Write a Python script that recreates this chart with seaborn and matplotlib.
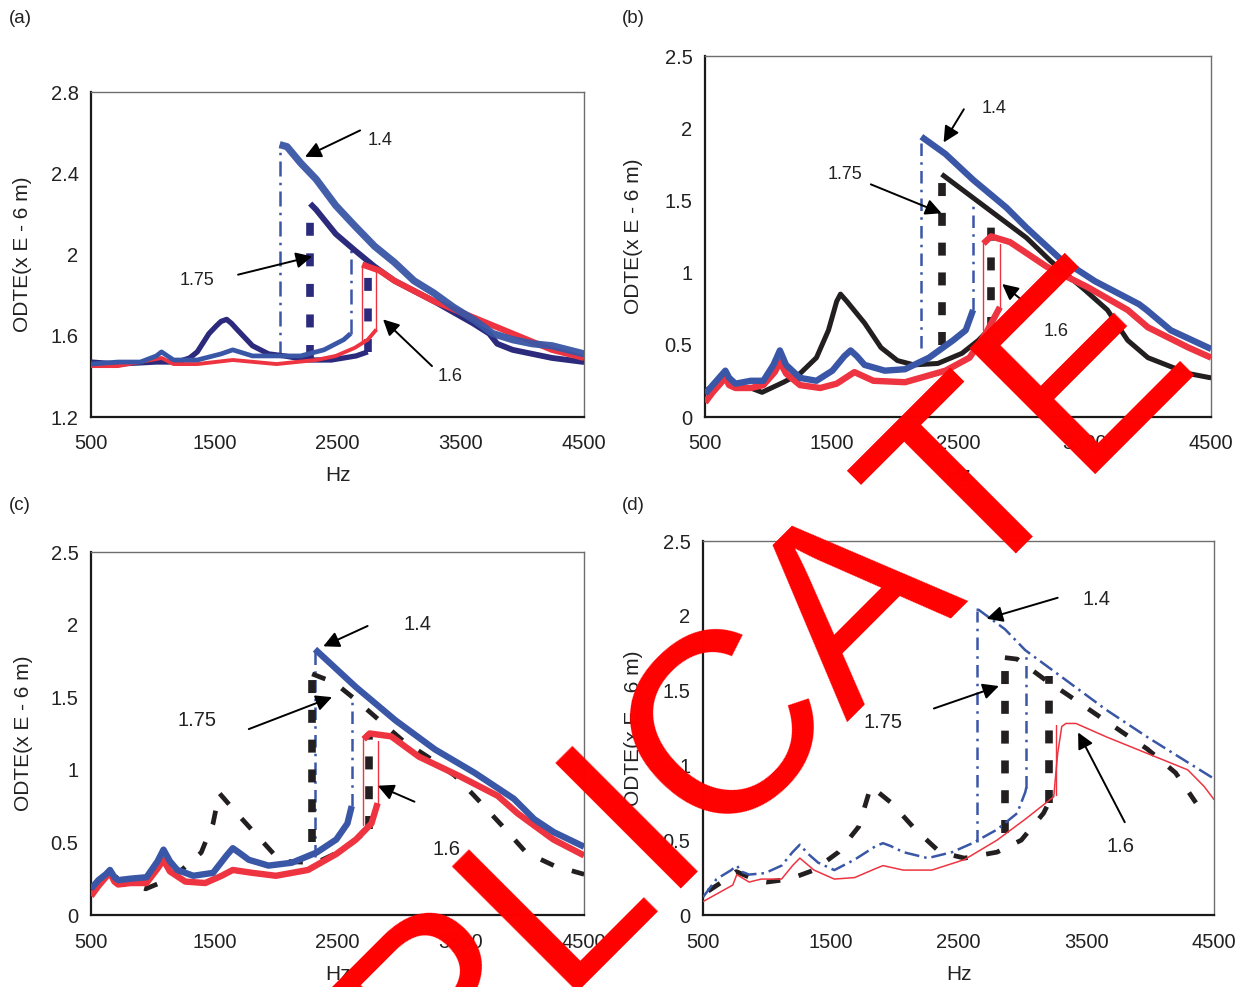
import matplotlib
matplotlib.use("Agg")
import matplotlib.pyplot as plt
import seaborn as sns
import pandas as pd

sns.set_theme(style="white")
plt.rcParams['font.family'] = ['Liberation Sans', 'DejaVu Sans']
plt.rcParams['text.kerning_factor'] = 16  # reference text is set without pair kerning

# ---------------- data ----------------
hz_ticks = [500, 1500, 2500, 3500, 4500]
a_yticks = [1.2, 1.6, 2.0, 2.4, 2.8]
bcd_yticks = [0, 0.5, 1, 1.5, 2, 2.5]
panel_labels = ["(a)", "(b)", "(c)", "(d)"]
ylabel_text = "ODTE(x E - 6 m)"
xlabel_text = "Hz"
watermark_text = "DUPLICATE"

# Panel (a)
a_x_lo_14 = [500, 719, 900, 1030, 1072, 1120, 1170, 1362, 1555, 1650, 1810, 2005, 2200, 2390, 2550, 2606]
a_y_lo_14 = [1.46, 1.47, 1.47, 1.50, 1.52, 1.50, 1.48, 1.48, 1.51, 1.53, 1.50, 1.50, 1.50, 1.53, 1.58, 1.61]
a_x_up_14 = [2030, 2090, 2200, 2326, 2486, 2640, 2800, 2962, 3120, 3280, 3440, 3600, 3760, 3920, 4080, 4240, 4500]
a_y_up_14 = [2.54, 2.53, 2.45, 2.37, 2.24, 2.14, 2.04, 1.96, 1.87, 1.81, 1.74, 1.68, 1.61, 1.58, 1.56, 1.55, 1.51]
a_jumps_14 = [[2030, 1.50, 2.54], [2606, 1.61, 2.03]]

a_x_lo_175 = [500, 719, 1030, 1200, 1300, 1362, 1457, 1520, 1555, 1600, 1640, 1685, 1810, 1940, 2070, 2260, 2450, 2650, 2745]
a_y_lo_175 = [1.47, 1.46, 1.47, 1.47, 1.49, 1.52, 1.61, 1.65, 1.67, 1.68, 1.66, 1.63, 1.55, 1.51, 1.50, 1.48, 1.48, 1.50, 1.52]
a_x_up_175 = [2278, 2326, 2486, 2640, 2800, 2962, 3280, 3600, 3730, 3795, 3920, 4240, 4500]
a_y_up_175 = [2.25, 2.22, 2.10, 2.02, 1.94, 1.87, 1.77, 1.66, 1.61, 1.56, 1.53, 1.49, 1.47]
a_jumps_175 = [[2278, 1.49, 2.24], [2745, 1.52, 1.97]]

a_x_lo_16 = [500, 719, 1072, 1170, 1362, 1650, 2005, 2326, 2486, 2640, 2745, 2815]
a_y_lo_16 = [1.45, 1.45, 1.49, 1.46, 1.46, 1.48, 1.46, 1.48, 1.50, 1.54, 1.58, 1.63]
a_x_up_16 = [2700, 2840, 2962, 3280, 3600, 3920, 4240, 4500]
a_y_up_16 = [1.95, 1.92, 1.87, 1.77, 1.69, 1.61, 1.53, 1.49]
a_jumps_16 = [[2700, 1.57, 1.95], [2815, 1.63, 1.95]]

# Panel (b)
b_x_lo_14 = [500, 570, 630, 660, 690, 740, 860, 960, 1040, 1091, 1140, 1250, 1380, 1506, 1600, 1650, 1700, 1760, 1920, 2080, 2270, 2460, 2560, 2618]
b_y_lo_14 = [0.16, 0.23, 0.29, 0.32, 0.27, 0.23, 0.25, 0.25, 0.36, 0.46, 0.36, 0.27, 0.25, 0.32, 0.42, 0.46, 0.42, 0.36, 0.32, 0.33, 0.41, 0.53, 0.60, 0.74]
b_x_up_14 = [2209, 2400, 2620, 2880, 3040, 3300, 3580, 3930, 3990, 4180, 4500]
b_y_up_14 = [1.94, 1.82, 1.64, 1.45, 1.31, 1.10, 0.94, 0.78, 0.74, 0.60, 0.47]
b_jumps_14 = [[2209, 0.48, 1.93], [2618, 0.74, 1.50]]

b_x_lo_175 = [500, 580, 660, 760, 860, 950, 1120, 1250, 1380, 1475, 1540, 1570, 1620, 1760, 1890, 2020, 2150, 2340, 2530, 2660, 2760]
b_y_lo_175 = [0.18, 0.22, 0.30, 0.21, 0.20, 0.17, 0.24, 0.30, 0.41, 0.60, 0.80, 0.85, 0.80, 0.65, 0.48, 0.39, 0.36, 0.37, 0.44, 0.53, 0.62]
b_x_up_175 = [2370, 2720, 3040, 3230, 3500, 3680, 3840, 4000, 4320, 4500]
b_y_up_175 = [1.68, 1.45, 1.24, 1.08, 0.88, 0.74, 0.53, 0.41, 0.30, 0.27]
b_jumps_175 = [[2370, 0.50, 1.66], [2760, 0.60, 1.42]]

b_x_lo_16 = [500, 560, 630, 660, 690, 740, 860, 960, 1050, 1091, 1140, 1250, 1410, 1540, 1680, 1830, 2080, 2400, 2590, 2720, 2830]
b_y_lo_16 = [0.10, 0.17, 0.24, 0.27, 0.22, 0.20, 0.20, 0.22, 0.31, 0.38, 0.30, 0.22, 0.20, 0.23, 0.31, 0.25, 0.24, 0.32, 0.41, 0.58, 0.76]
b_x_up_16 = [2700, 2760, 2910, 3200, 3520, 3840, 4000, 4320, 4500]
b_y_up_16 = [1.20, 1.25, 1.21, 1.04, 0.90, 0.74, 0.62, 0.48, 0.41]
b_jumps_16 = [[2700, 0.60, 1.22], [2830, 0.76, 1.20]]

# Panel (c)
c_x_lo_14 = [500, 560, 620, 654, 690, 720, 820, 950, 1040, 1088, 1140, 1200, 1330, 1490, 1600, 1650, 1700, 1780, 1940, 2130, 2330, 2490, 2580, 2615]
c_y_lo_14 = [0.18, 0.24, 0.28, 0.31, 0.26, 0.24, 0.25, 0.26, 0.37, 0.45, 0.37, 0.31, 0.27, 0.29, 0.41, 0.46, 0.43, 0.38, 0.34, 0.36, 0.43, 0.52, 0.63, 0.75]
c_x_up_14 = [2317, 2648, 2970, 3290, 3610, 3930, 4095, 4255, 4500]
c_y_up_14 = [1.83, 1.57, 1.34, 1.14, 0.98, 0.80, 0.66, 0.57, 0.47]
c_jumps_14 = [[2317, 0.40, 1.82], [2615, 0.75, 1.50]]

c_x_lo_16 = [500, 560, 620, 654, 690, 720, 820, 950, 1040, 1088, 1140, 1265, 1426, 1560, 1650, 1810, 2000, 2260, 2490, 2650, 2775, 2825]
c_y_lo_16 = [0.13, 0.20, 0.26, 0.29, 0.23, 0.21, 0.22, 0.22, 0.32, 0.38, 0.30, 0.23, 0.22, 0.27, 0.31, 0.29, 0.27, 0.31, 0.42, 0.52, 0.63, 0.77]
c_x_up_16 = [2712, 2760, 2935, 3160, 3480, 3800, 3960, 4250, 4500]
c_y_up_16 = [1.21, 1.25, 1.23, 1.09, 0.96, 0.82, 0.70, 0.52, 0.41]
c_jumps_16 = [[2705, 0.62, 1.22], [2825, 0.77, 1.20]]

c_x_lo_175 = [500, 580, 660, 760, 860, 944, 1170, 1394, 1490, 1540, 1683, 1876, 2036, 2326, 2550, 2754]
c_y_lo_175 = [0.18, 0.22, 0.30, 0.21, 0.20, 0.18, 0.26, 0.43, 0.63, 0.84, 0.70, 0.52, 0.37, 0.36, 0.45, 0.59]
c_x_up_175 = [2294, 2475, 2650, 2840, 3030, 3230, 3450, 3610, 3840, 4030, 4255, 4500]
c_y_up_175 = [1.66, 1.60, 1.48, 1.34, 1.20, 1.09, 0.96, 0.82, 0.61, 0.43, 0.34, 0.28]
c_jumps_175 = [[2294, 0.50, 1.66], [2754, 0.59, 1.25]]

# Panel (d)
d_x_lo_14 = [500, 605, 720, 764, 800, 860, 985, 1114, 1200, 1257, 1320, 1400, 1527, 1686, 1850, 1908, 1970, 2067, 2258, 2449, 2608, 2799, 2958, 3021, 3037]
d_y_lo_14 = [0.12, 0.24, 0.30, 0.33, 0.29, 0.27, 0.28, 0.33, 0.42, 0.47, 0.41, 0.35, 0.30, 0.37, 0.46, 0.48, 0.46, 0.42, 0.38, 0.42, 0.48, 0.57, 0.68, 0.82, 0.88]
d_x_up_14 = [2640, 2656, 2862, 3021, 3339, 3657, 3975, 4293, 4500]
d_y_up_14 = [2.04, 2.04, 1.91, 1.77, 1.57, 1.37, 1.19, 1.02, 0.91]
d_jumps_14 = [[2640, 0.49, 2.03], [3031, 0.85, 1.75]]

d_x_16 = [500, 732, 764, 860, 955, 1114, 1200, 1257, 1368, 1527, 1686, 1850, 1908, 2067, 2290, 2545, 2800, 3021, 3244,
          3275, 3307, 3340, 3418, 3657, 3975, 4293, 4420, 4500]
d_y_16 = [0.09, 0.20, 0.27, 0.22, 0.24, 0.24, 0.33, 0.38, 0.30, 0.24, 0.25, 0.31, 0.33, 0.30, 0.30, 0.37, 0.50, 0.64, 0.79,
          1.08, 1.26, 1.28, 1.28, 1.19, 1.08, 0.97, 0.86, 0.77]
d_jumps_16 = [[3258, 0.80, 1.27]]

d_x_lo_175 = [540, 700, 760, 923, 1000, 1177, 1368, 1559, 1718, 1813, 1972, 2163, 2353, 2545, 2800, 2990, 3164, 3205]
d_y_lo_175 = [0.16, 0.25, 0.29, 0.23, 0.22, 0.24, 0.30, 0.42, 0.59, 0.86, 0.75, 0.57, 0.42, 0.38, 0.42, 0.50, 0.68, 0.75]
d_x_up_175 = [2862, 2958, 3180, 3339, 3561, 3784, 3975, 4198, 4357]
d_y_up_175 = [1.72, 1.71, 1.57, 1.48, 1.35, 1.22, 1.11, 0.95, 0.75]
d_jumps_175 = [[2862, 0.55, 1.65], [3205, 0.75, 1.60]]

# annotations: label, text position, arrow tail, arrow head
a_notes = [["1.4", (2845, 2.56), (2683, 2.61), (2236, 2.48)],
           ["1.75", (1360, 1.87), (1693, 1.90), (2293, 1.99)],
           ["1.6", (3413, 1.40), (3266, 1.45), (2869, 1.68)]]
b_notes = [["1.4", (2784, 2.14), (2545, 2.13), (2385, 1.90)],
           ["1.75", (1602, 1.68), (1810, 1.61), (2369, 1.41)],
           ["1.6", (3273, 0.59), (3072, 0.76), (2848, 0.92)]]
c_notes = [["1.4", (3146, 2.00), (2744, 1.99), (2384, 1.85)],
           ["1.75", (1362, 1.34), (1780, 1.28), (2455, 1.50)],
           ["1.6", (3387, 0.45), (3124, 0.78), (2826, 0.89)]]
d_notes = [["1.4", (3577, 2.11), (3275, 2.12), (2719, 1.98)],
           ["1.75", (1909, 1.29), (2306, 1.38), (2815, 1.53)],
           ["1.6", (3768, 0.46), (3800, 0.62), (3435, 1.22)]]

# ---------------- styles ----------------
BLUE = "#3A56A6"
NAVY = "#2C2A7C"
RED = "#EE3440"
BLACK = "#231F20"

fig = plt.figure(figsize=(12.562, 9.872), dpi=100)
W, H = 1256.0, 987.0


def make_ax(l, t, r, b):
    return fig.add_axes([l / W, 1 - b / H, (r - l) / W, (b - t) / H])


def curve(ax, xs, ys, color, lw, dashes=None, alpha=1.0, z=3):
    df = pd.DataFrame({"x": xs, "y": ys})
    sns.lineplot(data=df, x="x", y="y", ax=ax, color=color, lw=lw, sort=False,
                 estimator=None, legend=False, alpha=alpha, zorder=z)
    ln = ax.lines[-1]
    ln.set_solid_capstyle("butt")
    ln.set_solid_joinstyle("round")
    if dashes is not None:
        ln.set_dashes(dashes)


def jumps(ax, jl, color, lw, dashes=None, z=2):
    for x, y0, y1 in jl:
        ln, = ax.plot([x, x], [y0, y1], color=color, lw=lw, zorder=z)
        if dashes is not None:
            ln.set_dashes(dashes)


def notes(ax, nl, fs):
    for lab, txy, tail, head in nl:
        ax.text(txy[0], txy[1], lab, ha="center", va="center", fontsize=fs, color="#222222", zorder=6)
        ax.annotate("", xy=head, xytext=tail,
                    arrowprops=dict(arrowstyle="-|>", color="black", lw=1.4,
                                    mutation_scale=24, shrinkA=0, shrinkB=0), zorder=6)


def style(ax, yticks, ylim, ylabel_pad=8, xlabel_pad=10):
    ax.set_xlim(500, 4500)
    ax.set_ylim(*ylim)
    ax.set_xticks(hz_ticks)
    ax.set_xticklabels([str(v) for v in hz_ticks])
    ax.set_yticks(yticks)
    ax.set_yticklabels([("%g" % v) for v in yticks])
    ax.tick_params(axis="x", direction="in", length=6, width=1, labelsize=14.5, pad=12.5, colors="#222222")
    ax.tick_params(axis="y", direction="out", length=5, width=1, labelsize=14.5, pad=4, colors="#222222")
    for s in ["left", "bottom"]:
        ax.spines[s].set_color("#1a1a1a")
        ax.spines[s].set_linewidth(1.6)
    for s in ["top", "right"]:
        ax.spines[s].set_color("#6e6e6e")
        ax.spines[s].set_linewidth(1.0)
    ax.set_xlabel(xlabel_text, fontsize=15, labelpad=xlabel_pad, color="#222222")
    ax.set_ylabel(ylabel_text, fontsize=15, labelpad=ylabel_pad, color="#222222")
    ax.set_facecolor("white")


# ---------- (a) ----------
ax = make_ax(91, 92, 584, 417)
curve(ax, a_x_lo_175, a_y_lo_175, NAVY, 3.8, z=3)
curve(ax, a_x_lo_14, a_y_lo_14, BLUE, 3.4, z=4)
curve(ax, a_x_lo_16, a_y_lo_16, RED, 2.8, z=3.5)
curve(ax, a_x_up_175, a_y_up_175, NAVY, 4.2, z=3)
curve(ax, a_x_up_16, a_y_up_16, RED, 4.4, z=3.5)
curve(ax, a_x_up_14, a_y_up_14, BLUE, 5.2, z=4, alpha=0.95)
jumps(ax, a_jumps_14, BLUE, 1.8, dashes=(6, 2.5, 1, 2.5))
jumps(ax, a_jumps_175, NAVY, 5.5, dashes=(1.7, 2.3))
jumps(ax, a_jumps_16, RED, 1.0)
style(ax, a_yticks, (1.2, 2.8), ylabel_pad=13, xlabel_pad=9)
notes(ax, a_notes, 13)

# ---------- (b) ----------
ax = make_ax(705, 56, 1211, 417)
curve(ax, b_x_lo_175, b_y_lo_175, BLACK, 3.6, z=3)
curve(ax, b_x_up_175, b_y_up_175, BLACK, 3.6, z=3)
curve(ax, b_x_lo_16, b_y_lo_16, RED, 4.6, z=3.5)
curve(ax, b_x_up_16, b_y_up_16, RED, 4.6, z=3.5)
curve(ax, b_x_lo_14, b_y_lo_14, BLUE, 4.6, z=4)
curve(ax, b_x_up_14, b_y_up_14, BLUE, 4.6, z=4)
jumps(ax, b_jumps_14, BLUE, 1.8, dashes=(5, 2.5, 1, 2.5))
jumps(ax, b_jumps_175, BLACK, 5.5, dashes=(1.7, 2.2))
jumps(ax, b_jumps_16, RED, 1.0)
style(ax, bcd_yticks, (0, 2.5), ylabel_pad=16, xlabel_pad=9)
notes(ax, b_notes, 13)

# ---------- (c) ----------
ax = make_ax(91, 552, 584, 915)
curve(ax, c_x_lo_175, c_y_lo_175, BLACK, 3.4, dashes=(3, 4), z=3)
curve(ax, c_x_up_175, c_y_up_175, BLACK, 3.4, dashes=(3, 4), z=3)
curve(ax, c_x_lo_16, c_y_lo_16, RED, 4.6, z=3.5)
curve(ax, c_x_up_16, c_y_up_16, RED, 4.6, z=3.5)
curve(ax, c_x_lo_14, c_y_lo_14, BLUE, 4.6, z=4)
curve(ax, c_x_up_14, c_y_up_14, BLUE, 4.6, z=4)
jumps(ax, c_jumps_14, BLUE, 1.8, dashes=(5, 2.5, 1, 2.5))
jumps(ax, c_jumps_175, BLACK, 5.5, dashes=(1.7, 2.2))
jumps(ax, c_jumps_16, RED, 1.0)
style(ax, bcd_yticks, (0, 2.5), ylabel_pad=13, xlabel_pad=10)
notes(ax, c_notes, 14.5)

# ---------- (d) ----------
ax = make_ax(703, 541, 1214, 915)
curve(ax, d_x_lo_175, d_y_lo_175, BLACK, 3.4, dashes=(3, 4), z=3)
curve(ax, d_x_up_175, d_y_up_175, BLACK, 3.4, dashes=(3, 4), z=3)
curve(ax, d_x_16, d_y_16, RED, 1.1, z=3.5)
curve(ax, d_x_lo_14, d_y_lo_14, BLUE, 1.8, dashes=(6, 2, 1, 2), z=4)
curve(ax, d_x_up_14, d_y_up_14, BLUE, 1.8, dashes=(6, 2, 1, 2), z=4)
jumps(ax, d_jumps_14, BLUE, 1.8, dashes=(5, 2.5, 1, 2.5))
jumps(ax, d_jumps_175, BLACK, 5.5, dashes=(1.7, 2.2))
jumps(ax, d_jumps_16, RED, 1.0)
style(ax, bcd_yticks, (0, 2.5), ylabel_pad=14, xlabel_pad=10)
notes(ax, d_notes, 14.5)

# panel letters
for lab, (px, py) in zip(panel_labels, [(9, 18), (622, 18), (9, 505), (622, 505)]):
    fig.text(px / W, 1 - py / H, lab, ha="left", va="center", fontsize=13.5, color="#222222")

# watermark
fig.text(684.4 / W, 1 - 863.7 / H, watermark_text, rotation=45, rotation_mode="anchor",
         ha="center", va="baseline", fontsize=186, color="#FF0000",
         family=["Liberation Sans", "DejaVu Sans"], zorder=100)

fig.savefig("out.png", dpi=100, facecolor="white")
